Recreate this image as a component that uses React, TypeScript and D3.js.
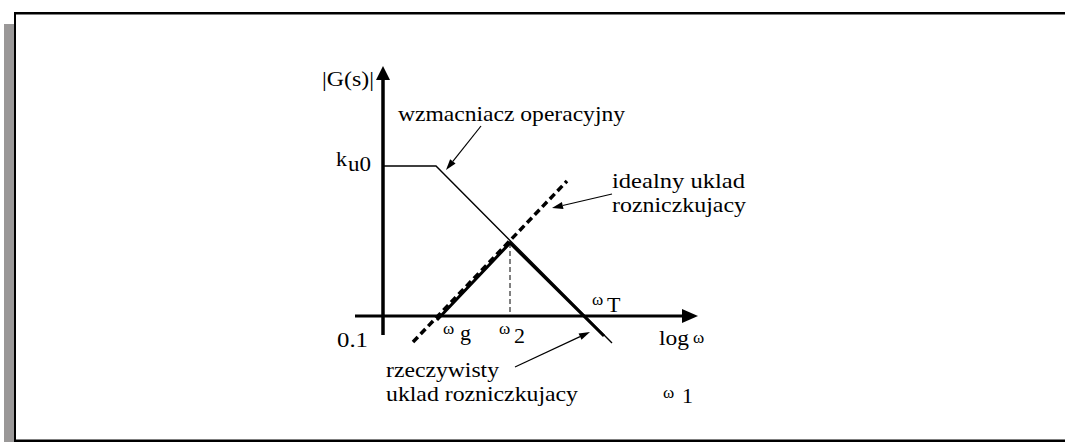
import React from "react";
import * as d3 from "d3";

// Units: w = position along log ω axis (y-axis at 0), g = |G(s)| level (x-axis at 0)
const opampCurve = [
  { w: 0, g: 15.0 },
  { w: 5.3, g: 15.0 },
  { w: 22.9, g: -2.7 },
];
const idealDiff = [
  { w: 3.0, g: -2.6 },
  { w: 18.4, g: 13.5 },
];
const realDiff = [
  { w: 5.4, g: -0.4 },
  { w: 12.7, g: 7.3 },
  { w: 22.1, g: -2.0 },
];
const omega2 = { w: 12.7, g: 7.3 };
const omegaG = 5.7;
const omegaT = 20.2;
const ku0 = 15.0;

const annotations = [
  { lines: ["wzmacniacz operacyjny"], tx: 1.5, ty: 19.5, from: [9.8, 19.0], to: [6.3, 14.6], widths: [227] },
  { lines: ["idealny uklad", "rozniczkujacy"], tx: 22.9, ty: 12.8, from: [22.9, 12.2], to: [16.9, 10.8], widths: [133, 134] },
  { lines: ["rzeczywisty", "uklad rozniczkujacy"], tx: 0.3, ty: -6.1, from: [13.2, -5.1], to: [20.7, -1.6], widths: [113, 192] },
];

const W = 1065;
const H = 442;

export default function App() {
  const x = d3.scaleLinear().domain([0, 10]).range([383, 483]);
  const y = d3.scaleLinear().domain([0, 10]).range([316, 216]);
  const line = d3
    .line<{ w: number; g: number }>()
    .x((d) => x(d.w))
    .y((d) => y(d.g));

  const font = "Liberation Serif";

  const arrowHead = (from: number[], to: number[], len = 11, half = 3.5) => {
    const x1 = x(from[0]), y1 = y(from[1]), x2 = x(to[0]), y2 = y(to[1]);
    const a = Math.atan2(y2 - y1, x2 - x1);
    const bx = x2 - len * Math.cos(a), by = y2 - len * Math.sin(a);
    const p1 = [bx + half * Math.sin(a), by - half * Math.cos(a)];
    const p2 = [bx - half * Math.sin(a), by + half * Math.cos(a)];
    return { x1, y1, bx, by, pts: `${x2},${y2} ${p1[0]},${p1[1]} ${p2[0]},${p2[1]}` };
  };

  const T = (props: any) => <text style={{ fontFamily: font }} {...props} />;

  return (
    <svg
      width={W}
      height={H}
      style={{ position: "absolute", left: 0, top: 0, background: "#fff", fontFamily: font }}
    >
      {/* frame */}
      <rect x={4} y={24} width={10} height={H - 24} fill="#9a9898" />
      <line x1={14} y1={13.2} x2={W} y2={13.2} stroke="#000" strokeWidth={2.6} />
      <line x1={15} y1={12} x2={15} y2={H} stroke="#000" strokeWidth={2} />
      <line x1={14} y1={440.7} x2={W} y2={440.7} stroke="#000" strokeWidth={2.6} />

      {/* axes */}
      <line x1={x(0)} y1={y(23.6)} x2={x(0)} y2={y(-1.9)} stroke="#000" strokeWidth={3.5} />
      <polygon points={`${x(0)},${y(25)} ${x(0) - 7},${y(23.6)} ${x(0) + 7},${y(23.6)}`} fill="#000" />
      <line x1={x(-2.8)} y1={y(0)} x2={x(30)} y2={y(0)} stroke="#000" strokeWidth={3} />
      <polygon points={`${x(31.5)},${y(0)} ${x(29.9)},${y(0.7)} ${x(29.9)},${y(-0.7)}`} fill="#000" />

      {/* ω2 dashed guide */}
      <line
        x1={x(omega2.w)}
        y1={y(omega2.g)}
        x2={x(omega2.w)}
        y2={y(0)}
        stroke="#000"
        strokeWidth={1}
        strokeDasharray="5,3"
      />

      {/* curves */}
      <path d={line(idealDiff) ?? ""} fill="none" stroke="#000" strokeWidth={3.5} strokeDasharray="7,4" />
      <path d={line(realDiff) ?? ""} fill="none" stroke="#000" strokeWidth={3} strokeLinejoin="miter" />
      <path d={line(opampCurve) ?? ""} fill="none" stroke="#000" strokeWidth={1.4} />

      {/* annotations */}
      {annotations.map((a, i) => {
        const h = arrowHead(a.from, a.to);
        return (
          <g key={i}>
            {a.lines.map((t, j) => (
              <T
                key={j}
                x={x(a.tx)}
                y={y(a.ty) + j * 24}
                fontSize={22}
                textLength={a.widths[j]}
                lengthAdjust="spacingAndGlyphs"
              >
                {t}
              </T>
            ))}
            <line x1={h.x1} y1={h.y1} x2={h.bx} y2={h.by} stroke="#000" strokeWidth={1.2} />
            <polygon points={h.pts} fill="#000" />
          </g>
        );
      })}

      {/* axis labels */}
      <T x={x(0) - 61} y={86} fontSize={22} textLength={52} lengthAdjust="spacingAndGlyphs">|G(s)|</T>
      <T x={x(0) - 47} y={y(ku0)} fontSize={22}>k</T>
      <T x={x(0) - 35} y={y(ku0) + 5} fontSize={21} textLength={23} lengthAdjust="spacingAndGlyphs">u0</T>
      <T x={x(0) - 46} y={347} fontSize={22} textLength={31} lengthAdjust="spacingAndGlyphs">0.1</T>
      <T x={x(27.6)} y={345} fontSize={22} textLength={30} lengthAdjust="spacingAndGlyphs">log</T>
      <T x={x(31.0)} y={343} fontSize={17}>ω</T>

      {/* ω labels */}
      <T x={x(omegaG) + 3} y={334} fontSize={17}>ω</T>
      <T x={x(omegaG) + 20} y={340} fontSize={22}>g</T>
      <T x={x(omega2.w) - 11} y={334} fontSize={17}>ω</T>
      <T x={x(omega2.w) + 4} y={343} fontSize={22}>2</T>
      <T x={x(omegaT) + 7} y={305} fontSize={17}>ω</T>
      <T x={x(omegaT) + 22} y={312} fontSize={22}>T</T>
      <T x={663} y={398} fontSize={17}>ω</T>
      <T x={682} y={403} fontSize={22}>1</T>
    </svg>
  );
}
